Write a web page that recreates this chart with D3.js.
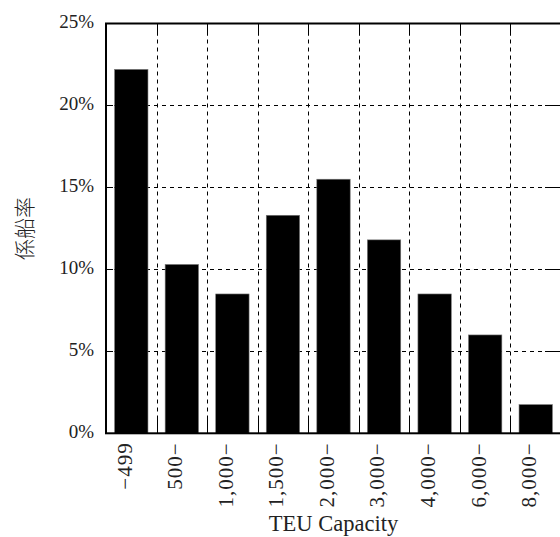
<!DOCTYPE html>
<html>
<head>
<meta charset="utf-8">
<script src="https://cdn.jsdelivr.net/npm/d3@7"></script>
<style>
  html, body { margin: 0; padding: 0; background: #fff; }
  svg { display: block; }
</style>
</head>
<body>
<script>
const categories = ["−499", "500−", "1,000−", "1,500−", "2,000−", "3,000−", "4,000−", "6,000−", "8,000−"];
const values = [22.2, 10.3, 8.5, 13.3, 15.5, 11.8, 8.5, 6.0, 1.75];
const yTicks = [0, 5, 10, 15, 20, 25];
const yLabel = "係船率";
const xLabel = "TEU Capacity";

const W = 560, H = 537;
const pL = 106, pT = 23.5, pR = 561, pB = 433.3;

const svg = d3.select("body").append("svg")
  .attr("width", W).attr("height", H);

const x = d3.scaleBand().domain(categories).range([pL, pR]).padding(0);
const y = d3.scaleLinear().domain([0, 25]).range([pB, pT]);

const serif = "'Liberation Serif', 'DejaVu Serif', serif";

// grid (behind bars)
const grid = svg.append("g").attr("stroke", "#000").attr("stroke-width", 1)
  .attr("stroke-dasharray", "4,4").attr("fill", "none");
grid.selectAll("line.h").data(yTicks.slice(1, -1)).join("line")
  .attr("class", "h")
  .attr("x1", pL).attr("x2", pR)
  .attr("y1", d => Math.round(y(d)) + 0.5).attr("y2", d => Math.round(y(d)) + 0.5);
grid.selectAll("line.v").data(categories.slice(1)).join("line")
  .attr("class", "v")
  .attr("y1", pT).attr("y2", pB)
  .attr("x1", d => Math.round(x(d)) + 0.5).attr("x2", d => Math.round(x(d)) + 0.5);

// bars
const barW = x.bandwidth() * 0.66;
svg.append("g").selectAll("rect").data(values).join("rect")
  .attr("x", (d, i) => x(categories[i]) + (x.bandwidth() - barW) / 2)
  .attr("width", barW)
  .attr("y", d => y(d))
  .attr("height", d => y(0) - y(d))
  .attr("fill", "#000")
  .attr("stroke", "#777")
  .attr("stroke-width", 0.6);

// inner ticks
const ticks = svg.append("g").attr("stroke", "#000").attr("stroke-width", 1);
ticks.selectAll("line.l").data(yTicks.slice(1, -1)).join("line")
  .attr("class", "l")
  .attr("x1", pL).attr("x2", pL + 7)
  .attr("y1", d => Math.round(y(d)) + 0.5).attr("y2", d => Math.round(y(d)) + 0.5);
ticks.selectAll("line.r").data(yTicks.slice(1, -1)).join("line")
  .attr("class", "r")
  .attr("x1", pR - 16).attr("x2", pR)
  .attr("y1", d => Math.round(y(d)) + 0.5).attr("y2", d => Math.round(y(d)) + 0.5);
ticks.selectAll("line.b").data(categories.slice(1)).join("line")
  .attr("class", "b")
  .attr("y1", pB).attr("y2", pB - 16)
  .attr("x1", d => Math.round(x(d)) + 0.5).attr("x2", d => Math.round(x(d)) + 0.5);
ticks.selectAll("line.t").data(categories.slice(1)).join("line")
  .attr("class", "t")
  .attr("y1", pT).attr("y2", pT + 12)
  .attr("x1", d => Math.round(x(d)) + 0.5).attr("x2", d => Math.round(x(d)) + 0.5);

// frame
svg.append("rect")
  .attr("x", pL).attr("y", pT)
  .attr("width", pR - pL).attr("height", pB - pT)
  .attr("fill", "none").attr("stroke", "#000").attr("stroke-width", 2);

// y axis labels
const yAxis = d3.axisLeft(y).tickValues(yTicks).tickFormat(d => d + "%").tickSize(0).tickPadding(12);
const ya = svg.append("g").attr("transform", `translate(${pL},0)`).call(yAxis);
ya.select(".domain").remove();
ya.selectAll("text")
  .attr("font-family", serif).attr("font-size", 19).attr("fill", "#222")
  .attr("dy", "0.2em");

// x axis labels
const xAxis = d3.axisBottom(x).tickSize(0);
const xa = svg.append("g").attr("transform", `translate(0,${pB})`).call(xAxis);
xa.select(".domain").remove();
xa.selectAll("text")
  .attr("font-family", serif).attr("font-size", 21).attr("fill", "#222")
  .attr("letter-spacing", "1px")
  .attr("text-anchor", "end")
  .attr("y", 0).attr("dy", "0.35em")
  .attr("transform", "translate(-7,9) rotate(-90)");

// axis titles
svg.append("text")
  .attr("x", (pL + pR) / 2).attr("y", 531)
  .attr("text-anchor", "middle")
  .attr("font-family", serif).attr("font-size", 22.5).attr("fill", "#222")
  .text(xLabel);

svg.append("text")
  .attr("transform", `translate(32,${(pT + pB) / 2}) rotate(-90)`)
  .attr("text-anchor", "middle")
  .attr("font-family", "'Noto Sans CJK JP', sans-serif").attr("font-size", 21)
  .attr("font-weight", 300).attr("fill", "#222")
  .text(yLabel);
</script>
</body>
</html>
